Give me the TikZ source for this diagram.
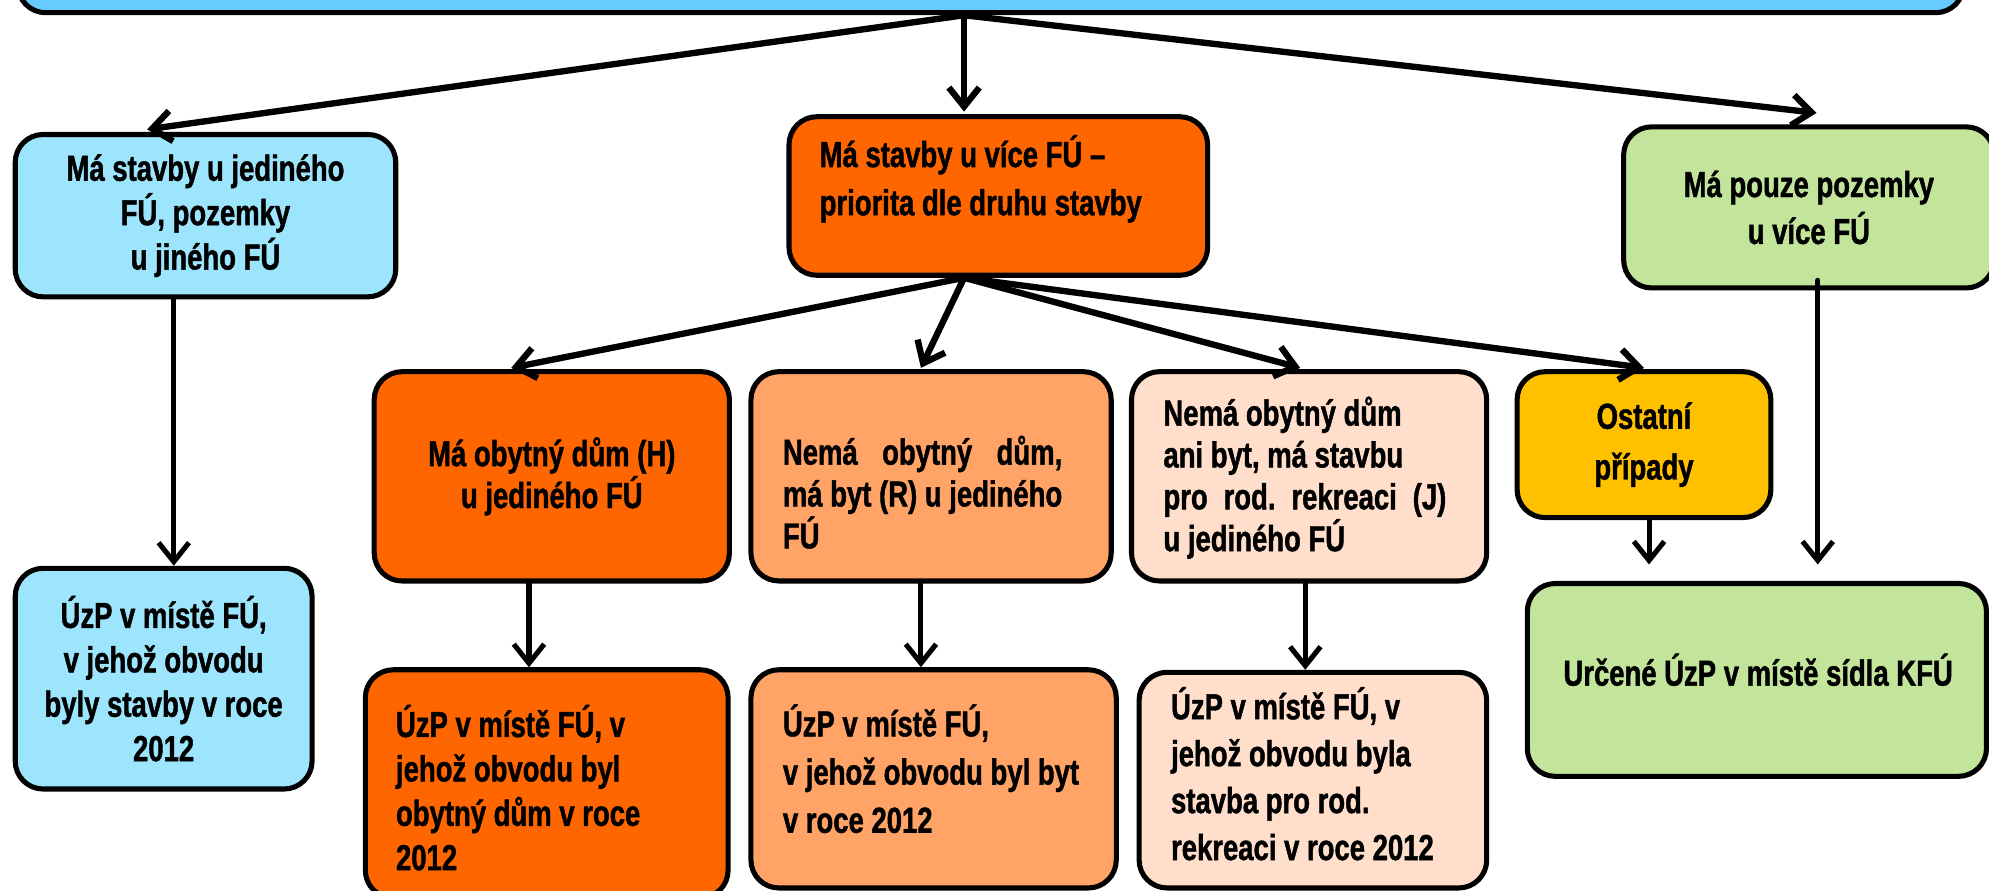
\documentclass[tikz,border=0pt]{standalone}
\usepackage{fontspec}
\setmainfont{Liberation Sans}[FakeStretch=0.76, BoldFeatures={FakeBold=1.2}]
\usetikzlibrary{arrows.meta,calc}
\definecolor{topblue}{HTML}{66CCFF}
\definecolor{lblue}{HTML}{9CE5FD}
\definecolor{orng}{HTML}{FF6600}
\definecolor{lorng}{HTML}{FFA366}
\definecolor{peach}{HTML}{FFDFCB}
\definecolor{gold}{HTML}{FFC000}
\definecolor{lgreen}{HTML}{C2E49B}
\newlength\Rw
\frenchspacing
\newcommand\fs{\fontsize{28.5}{35}\selectfont\bfseries}
\newcommand\fsl[1]{\fontsize{28.5}{#1}\selectfont\bfseries}
\begin{document}
\begin{tikzpicture}[x=1pt,y=-1pt,
  box/.style={draw=black, line width=4pt, rounded corners=22pt, inner sep=0pt, align=center, font=\fs},
  txt/.style={inner sep=0pt, align=left, font=\fs, anchor=west},
  arr/.style={line width=5pt, line cap=round, -{Straight Barb[length=15pt,width=24pt]}},
  varr/.style={arr, line width=4pt}]
\useasboundingbox (0,0) rectangle (1568,702.4);
% boxes
\node[box, fill=topblue, minimum width=1534pt, minimum height=60pt] (top) at (781,-20) {};
\node[box, fill=lblue, minimum width=300pt, minimum height=128pt] (L1) at (162,170) {Má stavby u jediného\\FÚ, pozemky\\u jiného FÚ};
\node[box, fill=orng, minimum width=330pt, minimum height=125pt] (C) at (787,154.5) {};
\node[txt, font=\fsl{38}] (Ct) at (646,141) {Má stavby u více FÚ –\\priorita dle druhu stavby};
\node[box, fill=lgreen, minimum width=292pt, minimum height=127pt, font=\fsl{37}] (R1) at (1426,163.5) {Má pouze pozemky\\u více FÚ};
\node[box, fill=lblue, minimum width=234pt, minimum height=174pt] (L2) at (129,535) {ÚzP v místě FÚ,\\v jehož obvodu\\byly stavby v roce\\2012};
\node[box, fill=orng, minimum width=280pt, minimum height=165pt, font=\fsl{33}] (H) at (435,375.5) {Má obytný dům (H)\\u jediného FÚ};
\node[box, fill=lorng, minimum width=284pt, minimum height=165pt] (R) at (734,375.5) {};
\node[txt, font=\fsl{33}] (Rt) at (617,388) {\settowidth{\Rw}{má byt (R) u jediného}\makebox[\Rw][s]{Nemá obytný dům,}\\má byt (R) u jediného\\FÚ};
\node[box, fill=peach, minimum width=280pt, minimum height=165pt] (J) at (1032,375.5) {};
\node[txt, font=\fsl{33}] (Jt) at (917,376.5) {Nemá obytný dům\\ani byt, má stavbu\\\makebox[223pt][s]{pro rod. rekreaci (J)}\\u jediného FÚ};
\node[box, fill=gold, minimum width=200pt, minimum height=115pt, font=\fsl{40}] (O) at (1296,350.5) {Ostatní\\případy};
\node[box, fill=orng, minimum width=286pt, minimum height=180pt] (H2) at (431,618) {};
\node[txt] (H2t) at (312,621) {ÚzP v místě FÚ, v\\jehož obvodu byl\\obytný dům v roce\\2012};
\node[box, fill=lorng, minimum width=288pt, minimum height=172pt] (R2) at (736,614) {};
\node[txt, font=\fsl{38}] (R2t) at (617,606) {ÚzP v místě FÚ,\\v jehož obvodu byl byt\\v roce 2012};
\node[box, fill=peach, minimum width=274pt, minimum height=170pt] (J2) at (1035,615) {};
\node[txt, font=\fsl{37}] (J2t) at (923,610) {ÚzP v místě FÚ, v\\jehož obvodu byla\\stavba pro rod.\\rekreaci v roce 2012};
\node[box, fill=lgreen, minimum width=362pt, minimum height=152pt] (K) at (1385,536) {};
\node[inner sep=0pt, font=\fs] (Kt) at (1386,528) {Určené ÚzP v místě sídla KFÚ};
% connectors from top
\coordinate (hub) at ($(top.south)+(-21,0)$);
\draw[arr] (hub) -- ($(L1.north)+(-46,-2)$);
\draw[arr] (hub) -- ($(C.north)+(-27,-2)$);
\draw[arr] (hub) -- ($(R1.north)+(6,-9)$);
% connectors from C
\coordinate (hub2) at ($(C.south)+(-27,0)$);
\draw[arr] (hub2) -- ($(H.north)+(-32,-1)$);
\draw[arr] (hub2) -- ($(R.north)+(-8,-1)$);
\draw[arr] (hub2) -- ($(J.north)+(-7,-1)$);
\draw[arr] (hub2) -- ($(O.north)+(0,-1)$);
% vertical connectors
\draw[varr] ($(L1.south)+(-25,0)$) coordinate (a1) -- (a1 |- L2.north);
\draw[varr] ($(H.south)+(-18,0)$) coordinate (a2) -- (a2 |- H2.north);
\draw[varr] ($(R.south)+(-8,0)$) coordinate (a3) -- (a3 |- R2.north);
\draw[varr] ($(J.south)+(-3,0)$) coordinate (a4) -- (a4 |- J2.north);
\draw[varr] ($(O.south)+(4,0)$) coordinate (a5) -- ($(a5 |- K.north)+(0,-13)$);
\draw[varr] ($(R1.south)+(7,-8)$) coordinate (a6) -- ($(a6 |- K.north)+(0,-13)$);
\end{tikzpicture}
\end{document}
